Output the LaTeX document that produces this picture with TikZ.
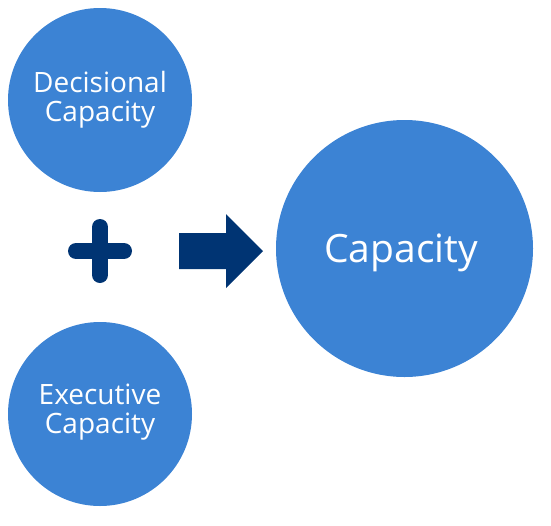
\documentclass[tikz,border=0pt]{standalone}
\usepackage{fontspec}
\setmainfont{Open Sans}
\definecolor{circblue}{RGB}{60,131,212}
\definecolor{navy}{RGB}{0,52,115}
\begin{document}
\begin{tikzpicture}[x=1pt,y=-1pt,
  bubble/.style={circle, fill=circblue, draw=none, inner sep=0pt},
  smalltxt/.style={text=white, font=\fontsize{28}{29}\selectfont, align=center, inner sep=0pt},
  bigtxt/.style={text=white, font=\fontsize{39}{40}\selectfont, inner sep=0pt},
  plusbar/.style={draw=navy, line width=16pt, line cap=round}]
\useasboundingbox (0,0) rectangle (551,525);
\node[bubble, minimum size=184pt] (dec) at (100,100) {};
\node[smalltxt] (dect) at (100,100) {Decisional\\Capacity};
\node[bubble, minimum size=184pt] (exe) at (100,414) {};
\node[smalltxt] (exet) at (100,412) {Executive\\Capacity};
\node[bubble, minimum size=257pt] (cap) at (404.5,248.5) {};
\node[bigtxt] (capt) at (401,253) {Capacity};
% plus sign
\coordinate (pl) at (76,251);
\coordinate (pr) at (124,251);
\coordinate (pt) at (100,227);
\coordinate (pb) at (100,275);
\draw[plusbar] (pl) -- (pr);
\draw[plusbar] (pt) -- (pb);
% block arrow
\fill[navy] (179,233) -- (226,233) -- (226,214) -- (263,251) -- (226,288) -- (226,269) -- (179,269) -- cycle;
\end{tikzpicture}
\end{document}
